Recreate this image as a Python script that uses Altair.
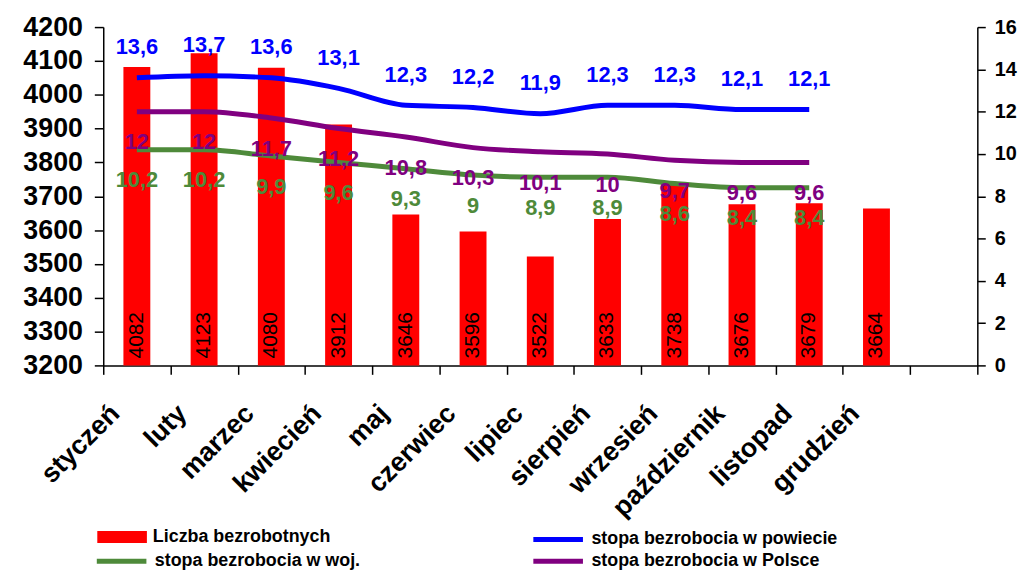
import altair as alt
import pandas as pd

FONT = "Liberation Sans"

months = ["styczeń", "luty", "marzec", "kwiecień", "maj", "czerwiec", "lipiec",
          "sierpień", "wrzesień", "październik", "listopad", "grudzień"]
x_domain = months + [" "]
bezrobotni = [4082, 4123, 4080, 3912, 3646, 3596, 3522, 3633, 3738, 3676, 3679, 3664]
powiat = [13.6, 13.7, 13.6, 13.1, 12.3, 12.2, 11.9, 12.3, 12.3, 12.1, 12.1]
woj = [10.2, 10.2, 9.9, 9.6, 9.3, 9.0, 8.9, 8.9, 8.6, 8.4, 8.4]
polska = [12.0, 12.0, 11.7, 11.2, 10.8, 10.3, 10.1, 10.0, 9.7, 9.6, 9.6]
left_ticks = [3200, 3300, 3400, 3500, 3600, 3700, 3800, 3900, 4000, 4100, 4200]
right_ticks = [0, 2, 4, 6, 8, 10, 12, 14, 16]

S_BAR = "Liczba bezrobotnych"
S_POW = "stopa bezrobocia w  powiecie"
S_WOJ = "stopa bezrobocia w  woj."
S_PL = "stopa bezrobocia w  Polsce"

C_BAR = "#FF0000"
C_POW = "#0000FF"
C_WOJ = "#4E8A3A"
C_PL = "#800080"


def pl(v):
    return f"{v:g}".replace(".", ",")


bars_df = pd.DataFrame({"miesiac": months, "liczba": bezrobotni, "seria": S_BAR,
                        "etykieta": [str(v) for v in bezrobotni]})


def line_df(vals, name):
    return pd.DataFrame({"miesiac": months[:len(vals)], "stopa": vals, "seria": name,
                         "etykieta": [pl(v) for v in vals]})


x_enc = alt.X("miesiac:N",
              scale=alt.Scale(domain=x_domain, paddingInner=0, paddingOuter=0),
              axis=alt.Axis(title=None, labelAngle=-45, labelAlign="right",
                            labelBaseline="middle", labelFontSize=27,
                            labelFontWeight="bold", labelFont=FONT, labelColor="black",
                            labelPadding=35, labelOffset=-22, tickBand="extent",
                            tickSize=9, grid=False))

left_scale = alt.Scale(domain=[3200, 4200], zero=False, nice=False)
left_axis = alt.Axis(title=None, values=left_ticks, format="d",
                     labelFontSize=27, labelFontWeight="bold", labelFont=FONT,
                     labelColor="black", tickSize=9, labelPadding=12, grid=False)


def leg(x, y, symbol, width=0):
    return alt.Legend(title=None, orient="none", legendX=x, legendY=y,
                      symbolType=symbol, symbolSize=2500, symbolStrokeWidth=width,
                      labelFontSize=18, labelFontWeight="bold", labelFont=FONT,
                      labelColor="black", labelOffset=6, labelLimit=500, padding=0)


bars = alt.Chart(bars_df).mark_bar(width={"band": 0.4}, clip=True).encode(
    x=x_enc, y=alt.Y("liczba:Q", scale=left_scale, axis=left_axis),
    fill=alt.Fill("seria:N", scale=alt.Scale(domain=[S_BAR], range=[C_BAR]),
                  legend=leg(-6, 489, "M-1,-0.24H1V0.24H-1Z")))

bar_text = alt.Chart(bars_df).mark_text(
    angle=270, align="left", baseline="middle", dx=7, fontSize=21, font=FONT,
    color="black").encode(x=x_enc, y=alt.YDatum(3200, scale=left_scale, axis=left_axis),
                          text="etykieta:N")

left = alt.layer(bars, bar_text)

y_right_scale = alt.Scale(domain=[0, 16], nice=False)
y_right_axis = alt.Axis(title=None, orient="right", values=right_ticks,
                        labelFontSize=20, labelFontWeight="bold", labelFont=FONT,
                        labelColor="black", tickSize=8, labelPadding=9, grid=False)

series = [
    (powiat, S_POW, C_POW, -31, (431, 489)),
    (woj, S_WOJ, C_WOJ, 31, (-9, 511)),
    (polska, S_PL, C_PL, 31, (431, 511)),
]

line_layers = []
text_layers = []
for vals, name, color, dy, (lx, ly) in series:
    df = line_df(vals, name)
    line_layers.append(
        alt.Chart(df).mark_line(interpolate="monotone", strokeWidth=5).encode(
            x=x_enc,
            y=alt.Y("stopa:Q", scale=y_right_scale, axis=y_right_axis),
            stroke=alt.Stroke("seria:N", scale=alt.Scale(domain=[name], range=[color]),
                              legend=leg(lx, ly, "stroke", 5))))
    text_layers.append(
        alt.Chart(df).mark_text(dy=dy, fontSize=22, fontWeight="bold", font=FONT,
                                color=color).encode(
            x=x_enc, y=alt.Y("stopa:Q", scale=y_right_scale, axis=y_right_axis),
            text="etykieta:N"))

right = alt.layer(*line_layers, *text_layers).resolve_scale(stroke="independent")

chart = alt.layer(left, right).resolve_scale(y="independent").properties(
    width=881, height=341,
    autosize=alt.AutoSizeParams(type="none"),
    padding={"left": 96, "top": 17, "right": 42, "bottom": 206},
).configure_view(stroke=None).configure_axis(
    domainColor="black", tickColor="black", domainWidth=1.5, tickWidth=1.5)

chart.save("out.html", embed_options={"renderer": "svg", "actions": False})
